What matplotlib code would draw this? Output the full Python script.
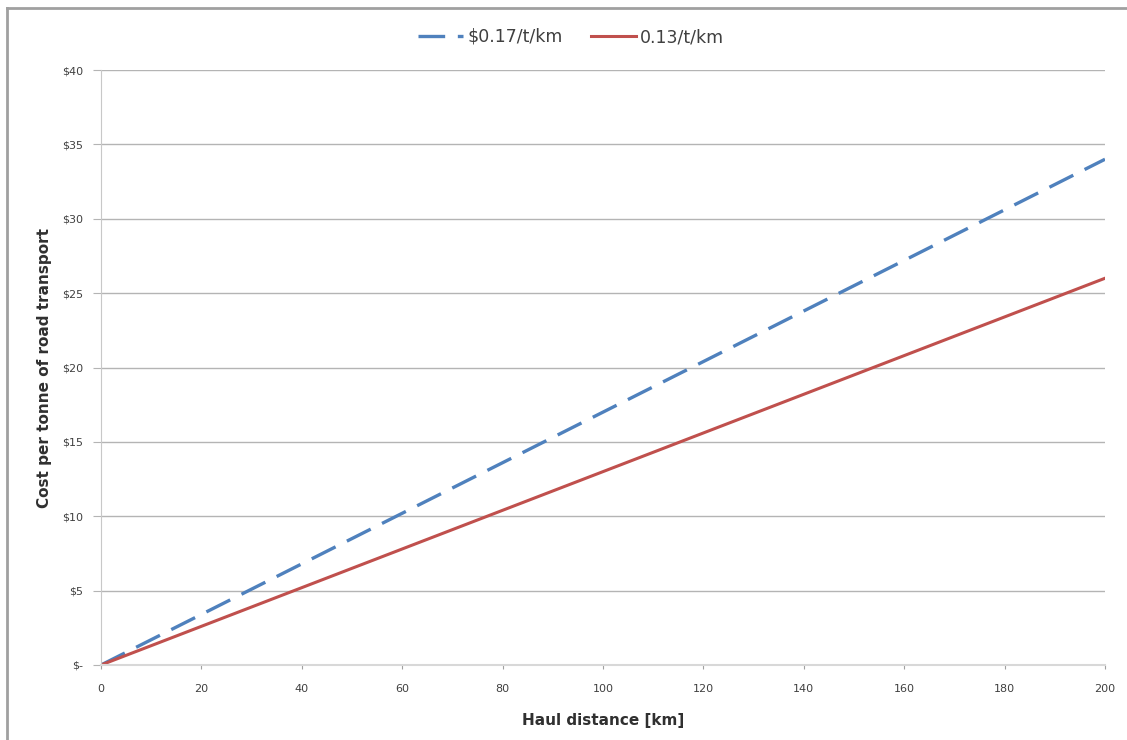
import matplotlib
matplotlib.use("Agg")
import matplotlib.pyplot as plt
from matplotlib.lines import Line2D

# haul distance (km) and cost per tonne ($)
distance = [0, 200]
cost_017 = [0, 34]
cost_013 = [0, 26]
series_names = ["$0.17/t/km", "0.13/t/km"]
y_ticks = [0, 5, 10, 15, 20, 25, 30, 35, 40]
y_labels = ["$-", "$5", "$10", "$15", "$20", "$25", "$30", "$35", "$40"]
x_ticks = [0, 20, 40, 60, 80, 100, 120, 140, 160, 180, 200]

plt.rcParams['font.family'] = ['DejaVu Sans']

fig = plt.figure(figsize=(11.27, 7.40), dpi=100)
ax = fig.add_axes([101/1127, 75/740, 1004/1127, 595/740])

ax.plot(distance, cost_017, color='#4F81BD', lw=2.4, dashes=(8, 3.8),
        label=series_names[0], solid_capstyle='butt')
ax.plot(distance, cost_013, color='#C0504D', lw=2.2, label=series_names[1])

ax.set_xlim(0, 200)
ax.set_ylim(0, 40)
ax.set_yticks(y_ticks)
ax.set_yticklabels(y_labels)
ax.set_xticks(x_ticks)
ax.grid(axis='y', color='#b4b4b4', lw=1)
ax.set_axisbelow(True)
for s in ['top', 'right']:
    ax.spines[s].set_visible(False)
ax.spines['left'].set_color('#c8c8c8')
ax.spines['bottom'].set_color('#d8d8d8')
ax.spines['bottom'].set_linewidth(1.5)
ax.tick_params(axis='y', length=6, color='#b4b4b4', labelsize=8,
               labelcolor='#404040', pad=7)
ax.tick_params(axis='x', length=3, color='#a0a0a0', labelsize=8,
               labelcolor='#404040', pad=11)

ax.set_xlabel("Haul distance [km]", fontsize=11, fontweight='bold',
              color='#303030', labelpad=13)
ax.set_ylabel("Cost per tonne of road transport", fontsize=11,
              fontweight='bold', color='#303030', labelpad=7)

fig.legend(loc='center', bbox_to_anchor=(571/1127, 1 - 37/740), ncol=2,
           frameon=False, fontsize=12.5, handlelength=2.6, handletextpad=0.25,
           columnspacing=1.6, labelcolor='#404040')

# frame of the original picture (top and left edges)
fig.add_artist(Line2D([7/1127, 7/1127], [0, 1 - 8/740], transform=fig.transFigure,
                      color='#a0a0a0', lw=2))
fig.add_artist(Line2D([7/1127, 1], [1 - 8/740, 1 - 8/740], transform=fig.transFigure,
                      color='#a0a0a0', lw=2))

fig.savefig("out.png", dpi=100)
